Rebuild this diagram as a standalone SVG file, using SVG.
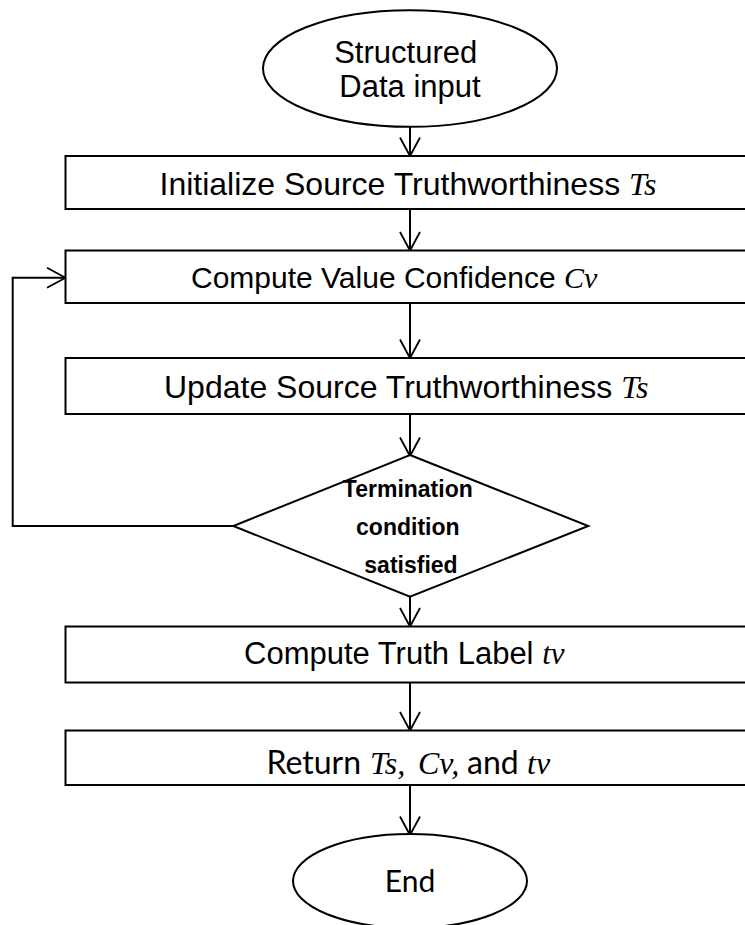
<svg xmlns="http://www.w3.org/2000/svg" width="745" height="925" viewBox="0 0 745 925">
  <style>
    .shape { fill: #ffffff; stroke: #000000; stroke-width: 2; }
    .wire { fill: none; stroke: #000000; stroke-width: 2; }
    .lbl { font-family: "Liberation Sans", Arial, sans-serif; fill: #000000; }
    .var { font-family: "Liberation Serif", "Times New Roman", serif; font-style: italic; }
    .soft { font-family: Lato, "Open Sans", sans-serif; }
    .cond { font-family: "Liberation Sans", Arial, sans-serif; font-weight: bold; font-size: 23px; fill: #000000; }
  </style>
  <defs>
    <marker id="vhead" viewBox="-20 -12 22 24" refX="0" refY="0" markerWidth="22" markerHeight="24" markerUnits="userSpaceOnUse" orient="auto" overflow="visible">
      <path d="M -18.5 -10 L 0 0 L -18.5 10" fill="none" stroke="#000000" stroke-width="1.8"/>
    </marker>
  </defs>

  <rect x="0" y="0" width="745" height="925" fill="#ffffff"/>

  <!-- connectors -->
  <g id="connectors">
    <line class="wire" x1="410" y1="127" x2="410" y2="156" marker-end="url(#vhead)"/>
    <line class="wire" x1="410" y1="209" x2="410" y2="250.5" marker-end="url(#vhead)"/>
    <line class="wire" x1="410" y1="303" x2="410" y2="358" marker-end="url(#vhead)"/>
    <line class="wire" x1="410" y1="414" x2="410" y2="456" marker-end="url(#vhead)"/>
    <line class="wire" x1="410" y1="597" x2="410" y2="626.5" marker-end="url(#vhead)"/>
    <line class="wire" x1="410" y1="682.5" x2="410" y2="730.5" marker-end="url(#vhead)"/>
    <line class="wire" x1="410" y1="785" x2="410" y2="835" marker-end="url(#vhead)"/>
    <!-- loop back from the decision to the confidence step -->
    <polyline class="wire" points="233.5,526 12.7,526 12.7,277.7 65.5,277.7" marker-end="url(#vhead)"/>
  </g>

  <g id="start">
    <ellipse class="shape" cx="410" cy="68.5" rx="147" ry="58.3"/>
    <text class="lbl" font-size="31" text-anchor="middle">
      <tspan x="410" y="63">Structured</tspan>
      <tspan x="410" y="96.5">Data input</tspan>
    </text>
  </g>

  <g id="init-ts">
    <rect class="shape" x="65.5" y="156" width="690" height="53"/>
    <text class="lbl" font-size="32" x="159.5" y="195">Initialize Source Truthworthiness <tspan class="var">Ts</tspan></text>
  </g>

  <g id="compute-cv">
    <rect class="shape" x="65.5" y="250.5" width="690" height="52.5"/>
    <text class="lbl" font-size="30" x="191" y="287.5">Compute Value Confidence <tspan class="var">Cv</tspan></text>
  </g>

  <g id="update-ts">
    <rect class="shape" x="65.5" y="358" width="690" height="56"/>
    <text class="lbl" font-size="32" x="164" y="397.5">Update Source Truthworthiness <tspan class="var">Ts</tspan></text>
  </g>

  <g id="termination">
    <polygon class="shape" points="410,455 588.3,526 410,596.7 233.3,526"/>
    <text class="cond" text-anchor="middle">
      <tspan x="411" y="496.5">Termination</tspan>
      <tspan x="411" y="535">condition</tspan>
      <tspan x="411" y="573">satisfied</tspan>
    </text>
  </g>

  <g id="compute-tv">
    <rect class="shape" x="65.5" y="626.5" width="690" height="56"/>
    <text class="lbl" font-size="31" x="244" y="663.5">Compute Truth Label <tspan class="var">tv</tspan></text>
  </g>

  <g id="return">
    <rect class="shape" x="65.5" y="730.5" width="690" height="54.5"/>
    <text class="lbl" font-size="32" y="773.5"><tspan class="soft" x="266.5">Return</tspan><tspan class="var" x="370">Ts,</tspan><tspan class="var" x="418">Cv,</tspan><tspan class="soft" x="467">and</tspan><tspan class="var" x="527">tv</tspan></text>
  </g>

  <g id="end">
    <ellipse class="shape" cx="410" cy="881" rx="117" ry="47"/>
    <text class="lbl soft" font-size="30" x="410" y="891.5" text-anchor="middle">End</text>
  </g>
</svg>
